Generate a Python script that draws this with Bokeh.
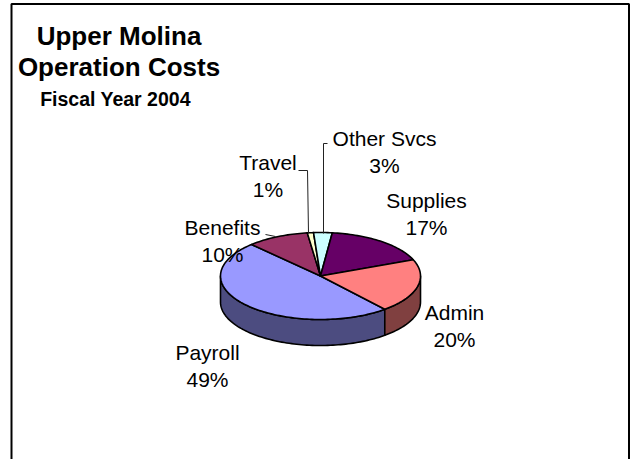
import numpy as np
from bokeh.plotting import figure
from bokeh.models import Range1d
from bokeh.core.properties import value
from bokeh.embed import file_html
from bokeh.resources import INLINE

# ---- data ----
categories = ["Payroll", "Benefits", "Travel", "Other Svcs", "Supplies", "Admin"]
shares = [49, 10, 1, 3, 17, 20]
top_colors = ["#9999FF", "#993366", "#FFFFCC", "#CCFFFF", "#660066", "#FF8080"]
side_colors = ["#4C4C80", "#4D1A33", "#808066", "#668080", "#330033", "#804040"]
title_lines = ["Upper Molina", "Operation Costs"]
subtitle = "Fiscal Year 2004"

# ---- layout (page pixel coordinates) ----
W, H = 632, 459
OX, OY = 0, 0          # page position of the figure's top-left corner

def px(x):
    return x - OX

def py(y):
    return y - OY

p = figure(width=W, height=H, x_range=Range1d(0, W), y_range=Range1d(H, 0),
           output_backend="svg", toolbar_location=None, min_border=0,
           x_axis_location=None, y_axis_location=None)
p.grid.grid_line_color = None
p.outline_line_color = None
p.background_fill_color = "white"
p.border_fill_color = "white"

# frame
p.line([px(11), px(11), px(628.5), px(628.5)], [H + 5, py(3.5), py(3.5), H + 5],
       line_color="black", line_width=2)

# ---- 3D pie ----
cx, cy = px(320), py(275.5)
rx, ry, depth = 100.0, 43.5, 26.0
start = 140.0
total = float(sum(shares))
bounds = start + np.concatenate([[0], np.cumsum(shares)]) / total * 360.0


def arc(a, b, dy=0.0):
    n = max(int(abs(b - a) / 1.5) + 2, 3)
    th = np.radians(np.linspace(a, b, n))
    return list(cx + rx * np.sin(th)), list(cy - ry * np.cos(th) + dy)

side_xs, side_ys, side_fc = [], [], []
for i in range(len(shares)):
    a, b = bounds[i], bounds[i + 1]
    for k in (-1, 0, 1, 2):
        lo, hi = max(a, 90 + 360 * k), min(b, 270 + 360 * k)
        if lo < hi:
            tx, ty = arc(lo, hi)
            bx, by = arc(hi, lo, depth)
            side_xs.append(tx + bx)
            side_ys.append(ty + by)
            side_fc.append(side_colors[i])

p.patches(side_xs, side_ys, fill_color=side_fc, line_color="black",
          line_width=1.6, line_join="round")

top_xs, top_ys = [], []
for i in range(len(shares)):
    ax_, ay_ = arc(bounds[i], bounds[i + 1])
    top_xs.append([cx] + ax_)
    top_ys.append([cy] + ay_)

p.patches(top_xs, top_ys, fill_color=top_colors, line_color="black",
          line_width=1.6, line_join="round")

# leader lines
p.multi_line(
    [[px(323), px(323), px(327)], [px(298), px(307), px(308)], [px(265), px(275)]],
    [[py(233), py(143), py(143)], [py(170), py(170), py(233)], [py(234), py(236)]],
    line_color="#222222", line_width=1)

# labels
lab_pos = {
    "Payroll": (207, 352),
    "Benefits": (222, 227),
    "Travel": (267.5, 162),
    "Other Svcs": (384, 138),
    "Supplies": (426, 200),
    "Admin": (454, 312),
}
lx, ly, lt = [], [], []
for c, s in zip(categories, shares):
    x0, y0 = lab_pos[c]
    lx += [px(x0), px(x0)]
    ly += [py(y0), py(y0 + 27)]
    lt += [c, f"{round(100 * s / total)}%"]

p.text(lx, ly, text=lt, text_font=value("Liberation Sans"),
       text_font_size=value("21px"), text_align="center",
       text_baseline="alphabetic", text_color="black")

# titles
p.text([px(118.5), px(118.5)], [py(35), py(66.5)], text=title_lines,
       text_font=value("Liberation Sans"), text_font_size=value("26px"),
       text_font_style="bold", text_align="center", text_baseline="alphabetic",
       text_color="black")
p.text([px(115)], [py(98.5)], text=[subtitle],
       text_font=value("Liberation Sans"), text_font_size=value("19.5px"),
       text_font_style="bold", text_align="center", text_baseline="alphabetic",
       text_color="black")

open("out.html", "w").write(file_html(p, INLINE))
